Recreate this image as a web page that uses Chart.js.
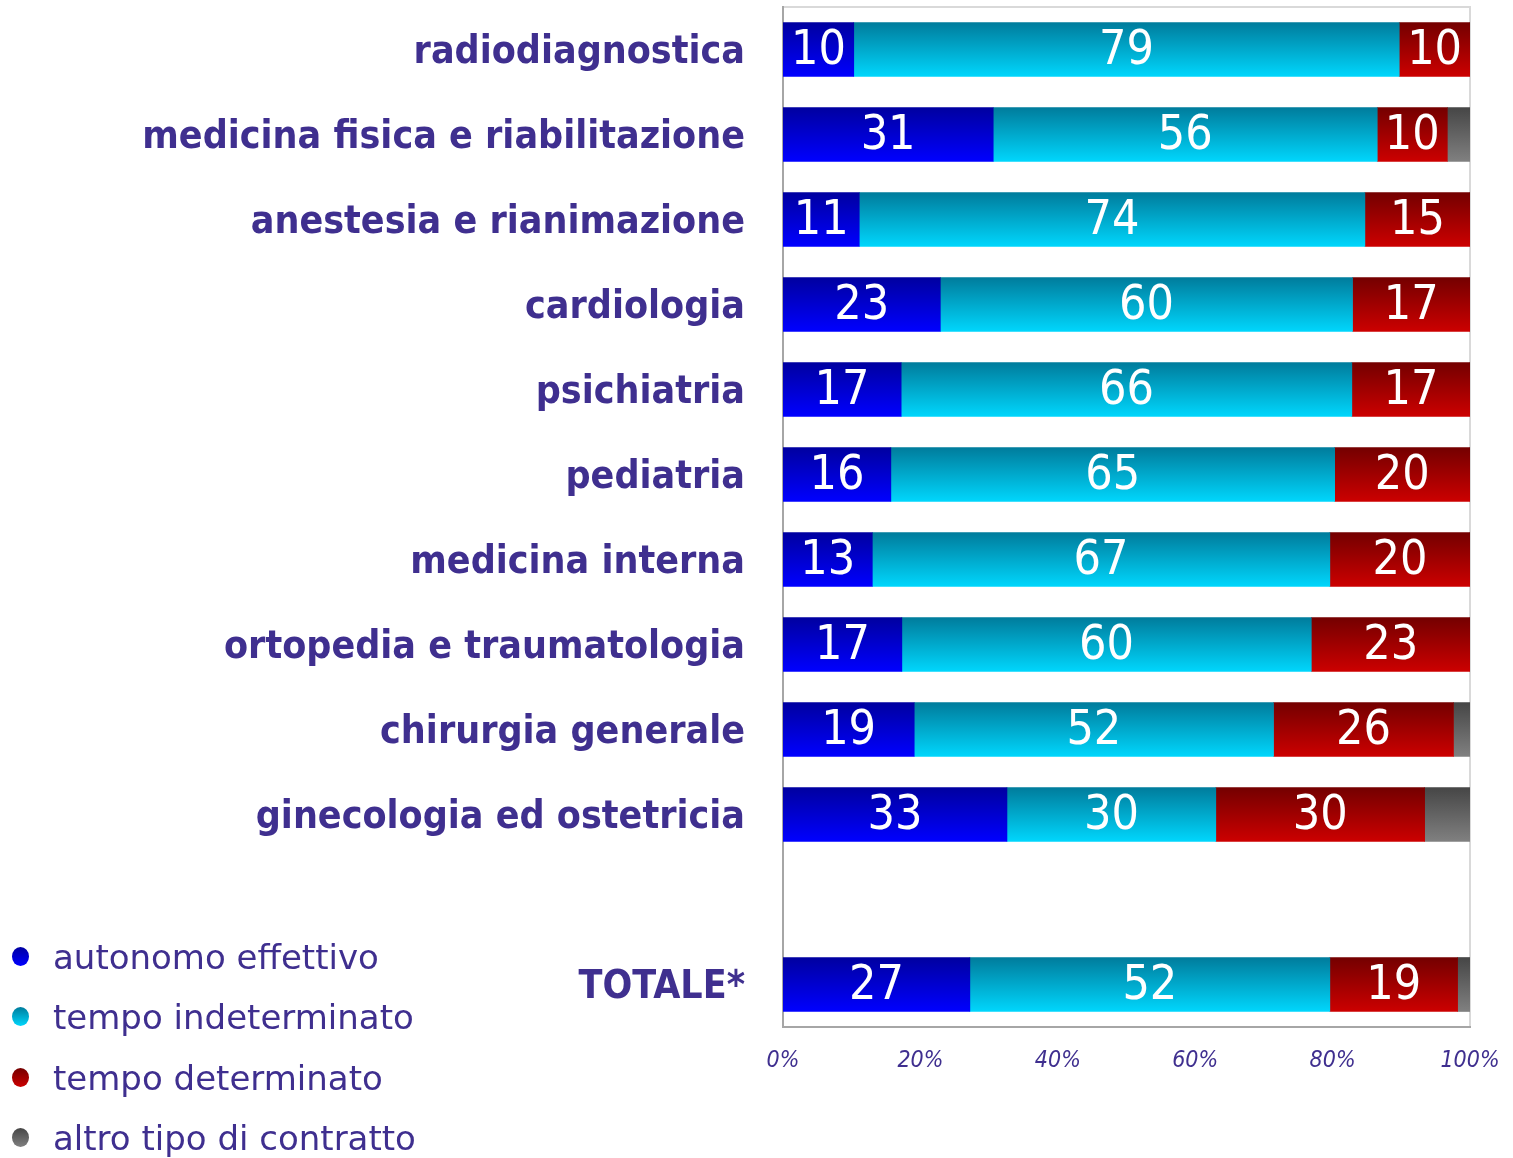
<!DOCTYPE html>
<html>
<head>
<meta charset="utf-8">
<script src="https://cdn.jsdelivr.net/npm/chart.js@4/dist/chart.umd.min.js"></script>
<style>
  html, body { margin: 0; padding: 0; background: #ffffff; }
  #wrap { position: relative; width: 1513px; height: 1158px; }
  #legend { position: absolute; left: 0; top: 0; width: 1px; height: 1px; }
  .li { position: absolute; left: 0; height: 40px; white-space: nowrap; }
  .mk { position: absolute; left: 12px; top: 10px; width: 17px; height: 19px; border-radius: 50%; }
  .tx { position: absolute; left: 53px; top: 0; line-height: 40px; font-family: 'DejaVu Sans', sans-serif; font-size: 34px; color: #3f2f8f; }
</style>
</head>
<body>
<div id="wrap">
  <canvas id="c" width="1513" height="1158"></canvas>
  <div id="legend"></div>
</div>
<script>
// ---- data ----
const categories = [
  'radiodiagnostica',
  'medicina fisica e riabilitazione',
  'anestesia e rianimazione',
  'cardiologia',
  'psichiatria',
  'pediatria',
  'medicina interna',
  'ortopedia e traumatologia',
  'chirurgia generale',
  'ginecologia ed ostetricia',
  '',
  'TOTALE*'
];
const seriesNames = ['autonomo effettivo', 'tempo indeterminato', 'tempo determinato', 'altro tipo di contratto'];
const autonomoEffettivo    = [10.3, 30.6, 11.1, 22.9, 17.2, 15.7, 13.0, 17.3, 19.1, 32.6, null, 27.2];
const tempoIndeterminato   = [79.4, 55.9, 73.6, 60.0, 65.6, 64.6, 66.6, 59.6, 52.3, 30.4, null, 52.4];
const tempoDeterminato     = [10.3, 10.2, 15.3, 17.1, 17.2, 19.7, 20.4, 23.1, 26.2, 30.4, null, 18.6];
const altroTipoContratto   = [0,    3.3,  0,    0,    0,    0,    0,    0,    2.4,  6.6,  null, 1.8];
const xTicks = [0, 20, 40, 60, 80, 100];

// ---- styles ----
const TEXT = '#3f2f8f';
const grads = [
  ['#0000a0', '#0000ff'],
  ['#007c9c', '#00d6fc'],
  ['#740000', '#cc0000'],
  ['#464646', '#808080']
];
const BAR_H = 54;

function gradFill(i) {
  return function (ctx) {
    const chart = ctx.chart;
    const ys = chart.scales && chart.scales.y;
    if (!ys || !chart.chartArea || ctx.dataIndex === undefined) return grads[i][1];
    const yc = ys.getPixelForValue(ctx.dataIndex);
    const g = chart.ctx.createLinearGradient(0, yc - BAR_H / 2, 0, yc + BAR_H / 2);
    g.addColorStop(0, grads[i][0]);
    g.addColorStop(1, grads[i][1]);
    return g;
  };
}

const seriesData = [autonomoEffettivo, tempoIndeterminato, tempoDeterminato, altroTipoContratto];
const datasets = seriesData.map((d, i) => ({
  label: seriesNames[i],
  data: d,
  backgroundColor: gradFill(i),
  borderWidth: 0,
  barThickness: BAR_H,
  showLabel: i < 3
}));

const plotFrame = {
  id: 'plotFrame',
  beforeDraw(chart) {
    const a = chart.chartArea, c = chart.ctx;
    c.save();
    c.strokeStyle = '#d9d9d9';
    c.lineWidth = 2;
    c.strokeRect(a.left, a.top, a.right - a.left, a.bottom - a.top);
    c.restore();
  }
};

const valueLabels = {
  id: 'valueLabels',
  afterDatasetsDraw(chart) {
    const c = chart.ctx;
    c.save();
    c.fillStyle = '#ffffff';
    c.font = "48px 'DejaVu Sans Condensed', 'DejaVu Sans', sans-serif";
    c.textAlign = 'center';
    c.textBaseline = 'middle';
    chart.data.datasets.forEach((ds, di) => {
      if (!ds.showLabel) return;
      const meta = chart.getDatasetMeta(di);
      meta.data.forEach((el, i) => {
        const v = ds.data[i];
        if (v === null || v === undefined || v <= 0) return;
        const p = el.getCenterPoint();
        c.fillText(String(Math.round(v)), p.x, p.y + 2);
      });
    });
    c.restore();
  }
};

function zeroPad(s) {
  s.paddingTop = 0; s.paddingBottom = 0; s.paddingLeft = 0; s.paddingRight = 0;
}

const chart = new Chart(document.getElementById('c'), {
  type: 'bar',
  data: { labels: categories, datasets: datasets },
  options: {
    indexAxis: 'y',
    responsive: false,
    animation: false,
    layout: { padding: { left: 0, right: 43, top: 7, bottom: 0 } },
    plugins: { legend: { display: false }, tooltip: { enabled: false } },
    scales: {
      x: {
        stacked: true,
        min: 0, max: 100,
        afterBuildTicks(s) { s.ticks = xTicks.map(v => ({ value: v })); },
        afterFit(s) { s.height = 131; zeroPad(s); },
        grid: { display: false, drawTicks: false },
        border: { display: true, color: '#a6a6a6', width: 2 },
        ticks: {
          padding: 20,
          maxRotation: 0,
          color: TEXT,
          font: { family: "'DejaVu Sans Condensed', 'DejaVu Sans', sans-serif", size: 23, style: 'italic' },
          callback: v => v + '%'
        }
      },
      y: {
        stacked: true,
        afterFit(s) { s.width = 783; zeroPad(s); },
        grid: { display: false, drawTicks: false },
        border: { display: true, color: '#a6a6a6', width: 2 },
        ticks: {
          padding: 38,
          labelOffset: 3,
          color: TEXT,
          autoSkip: false,
          font: { family: "'DejaVu Sans Condensed', 'DejaVu Sans', sans-serif", size: 39, weight: 'bold' }
        }
      }
    }
  },
  plugins: [plotFrame, valueLabels]
});

// ---- legend (HTML, built from the datasets) ----
const legendCenters = [957, 1017, 1078, 1138];
const lg = document.getElementById('legend');
chart.data.datasets.forEach((ds, i) => {
  const item = document.createElement('div');
  item.className = 'li';
  item.style.top = (legendCenters[i] - 20) + 'px';
  const mk = document.createElement('div');
  mk.className = 'mk';
  mk.style.background = 'linear-gradient(to bottom, ' + grads[i][0] + ', ' + grads[i][1] + ')';
  const tx = document.createElement('div');
  tx.className = 'tx';
  tx.textContent = ds.label;
  item.appendChild(mk);
  item.appendChild(tx);
  lg.appendChild(item);
});
</script>
</body>
</html>
